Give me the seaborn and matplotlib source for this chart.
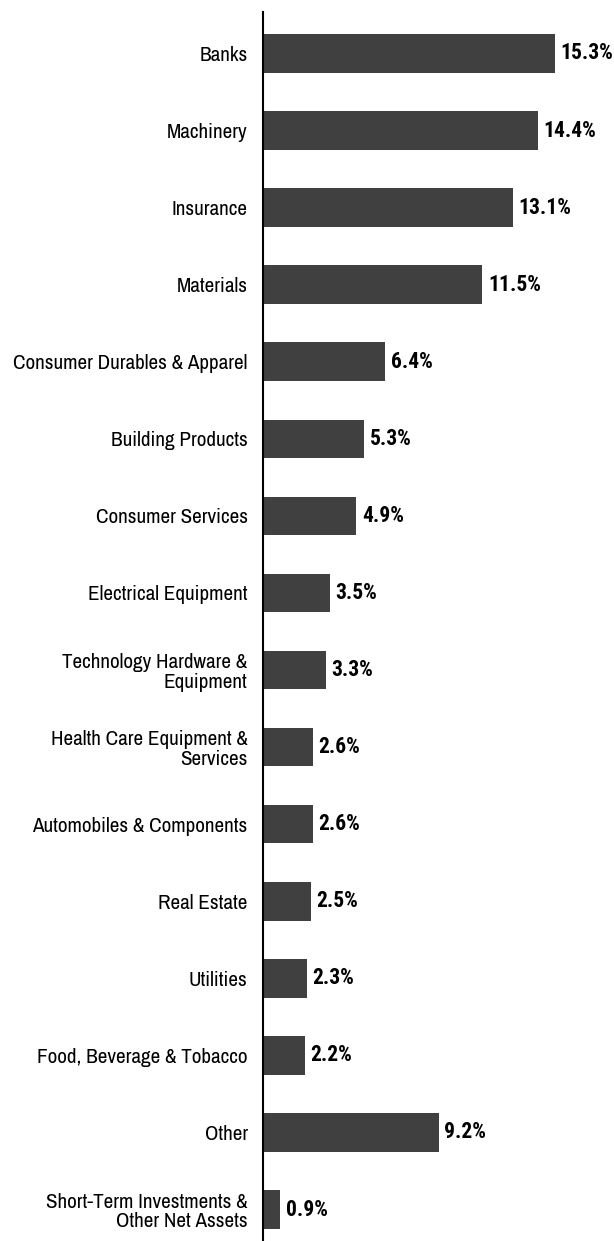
import matplotlib
matplotlib.use("Agg")
import matplotlib.pyplot as plt
import seaborn as sns
import pandas as pd

categories = [
    "Banks",
    "Machinery",
    "Insurance",
    "Materials",
    "Consumer Durables & Apparel",
    "Building Products",
    "Consumer Services",
    "Electrical Equipment",
    "Technology Hardware &\nEquipment",
    "Health Care Equipment &\nServices",
    "Automobiles & Components",
    "Real Estate",
    "Utilities",
    "Food, Beverage & Tobacco",
    "Other",
    "Short-Term Investments &\nOther Net Assets",
]
values = [15.3, 14.4, 13.1, 11.5, 6.4, 5.3, 4.9, 3.5, 3.3, 2.6, 2.6, 2.5, 2.3, 2.2, 9.2, 0.9]
value_labels = ["15.3%", "14.4%", "13.1%", "11.5%", "6.4%", "5.3%", "4.9%", "3.5%",
                "3.3%", "2.6%", "2.6%", "2.5%", "2.3%", "2.2%", "9.2%", "0.9%"]

sns.set_theme(style="white")
LABEL_FONT = ["Archivo Narrow", "DejaVu Sans"]
VALUE_FONT = ["Roboto Condensed", "Barlow Semi Condensed", "DejaVu Sans"]
plt.rcParams["font.family"] = LABEL_FONT

df = pd.DataFrame({"cat": categories, "val": values})

W, H = 614, 1241
fig = plt.figure(figsize=(W / 100, H / 100), dpi=100)
ax = fig.add_axes([263 / W, 0, (W - 263) / W, (H - 12) / H])

sns.barplot(data=df, x="val", y="cat", orient="h", color="#404040",
            saturation=1, width=0.5, ax=ax, edgecolor="none")

ax.set_xlim(0, (W - 263) / 19.08)
ax.set_ylim(15 + 31.5 / 77.07, -41.5 / 77.07)

for i, (v, lab) in enumerate(zip(values, value_labels)):
    ax.annotate(lab, xy=(v, i), xytext=(4, 0), textcoords="offset points",
                va="center", ha="left", fontsize=15.5, fontweight="bold",
                color="black", family=VALUE_FONT)

ax.set_xlabel("")
ax.set_ylabel("")
ax.set_xticks([])
ax.tick_params(axis="y", length=0, pad=11, labelsize=15.2, labelcolor="black")
for lab in ax.get_yticklabels():
    lab.set_linespacing(1.05)
    lab.set_horizontalalignment("right")

for s in ["top", "right", "bottom"]:
    ax.spines[s].set_visible(False)
ax.spines["left"].set_color("black")
ax.spines["left"].set_linewidth(1.5)

fig.savefig("out.png", dpi=100)
